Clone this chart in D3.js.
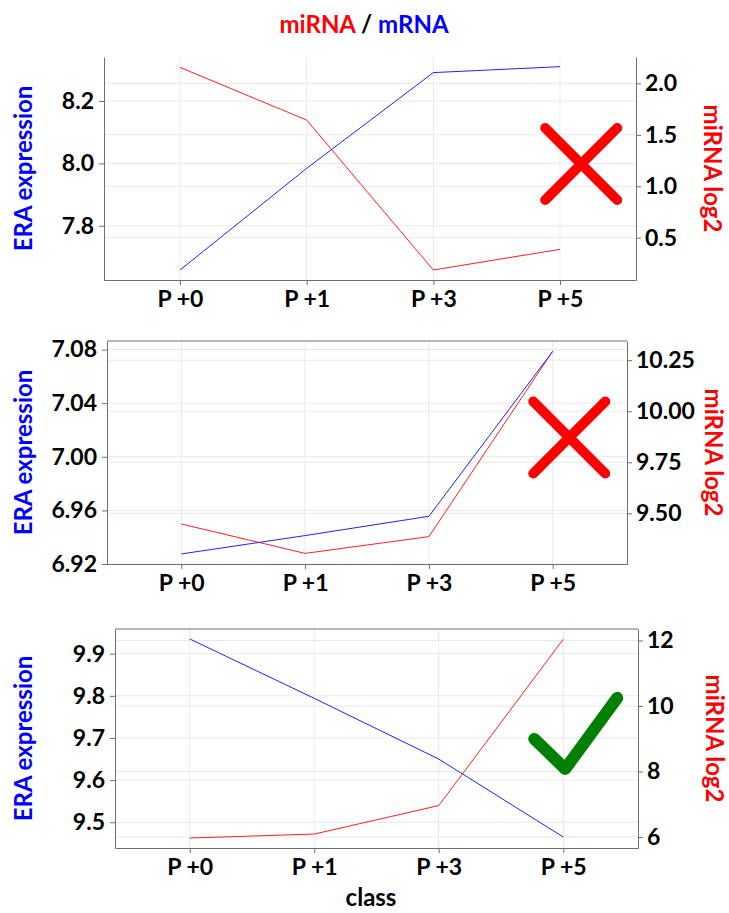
<!DOCTYPE html>
<html>
<head>
<meta charset="utf-8">
<script src="https://cdn.jsdelivr.net/npm/d3@7"></script>
<style>
  body { margin: 0; background: #fff; }
  text { font-family: Lato, "DejaVu Sans", sans-serif; font-weight: bold; }
</style>
</head>
<body>
<script>
// data
var categories = ["P +0", "P +1", "P +3", "P +5"]

var mrna1 = [7.658, 7.984, 8.291, 8.310]
var mirna1 = [2.155, 1.643, 0.186, 0.387]
var mrna2 = [6.9275, 6.9412, 6.9556, 7.0787]
var mirna2 = [9.448, 9.304, 9.386, 10.294]
var mrna3 = [9.935, 9.794, 9.650, 9.465]
var mirna3 = [5.97, 6.09, 6.96, 12.04]

var leftTicks1 = [7.8, 8.0, 8.2]
var rightTicks1 = [0.5, 1.0, 1.5, 2.0]
var leftTicks2 = [6.92, 6.96, 7.00, 7.04, 7.08]
var rightTicks2 = [9.5, 9.75, 10.0, 10.25]
var leftTicks3 = [9.5, 9.6, 9.7, 9.8, 9.9]
var rightTicks3 = [6, 8, 10, 12]

var verdicts = ["cross", "cross", "check"]

// layout of each panel (mx/my: centre of the verdict symbol as a fraction of the plot box)
var panels = [
    { left: 104, right: 636, top: 57, bottom: 280, topBorder: false, rLabelX: 704,
      mrna: mrna1, mirna: mirna1, lDom: [7.626, 8.341], rDom: [0.089, 2.256],
      lTicks: leftTicks1, rTicks: rightTicks1, lFmt: ".1f", rFmt: ".1f",
      mark: verdicts[0], mx: 0.897, my: 0.48 },
    { left: 107, right: 627, top: 341, bottom: 564, topBorder: true, rLabelX: 705,
      mrna: mrna2, mirna: mirna2, lDom: [6.92, 7.0864], rDom: [9.252, 10.344],
      lTicks: leftTicks2, rTicks: rightTicks2, lFmt: ".2f", rFmt: ".2f",
      mark: verdicts[1], mx: 0.889, my: 0.433 },
    { left: 115, right: 638, top: 629, bottom: 848, topBorder: true, rLabelX: 706,
      mrna: mrna3, mirna: mirna3, lDom: [9.439, 9.9585], rDom: [5.665, 12.35],
      lTicks: leftTicks3, rTicks: rightTicks3, lFmt: ".1f", rFmt: "d",
      mark: verdicts[2], mx: 0.88, my: 0.52 }
]

var width = 729
var height = 913
var gridColor = "#e9e9e9"
var axisColor = "#6e6e6e"
var tickFont = 23
var labelFont = 24

var svg = d3.select("body").append("svg")
    .attr("width", width)
    .attr("height", height)

// title
var title = svg.append("text")
    .attr("x", 364)
    .attr("y", 33)
    .attr("text-anchor", "middle")
    .style("font-size", labelFont + "px")
title.append("tspan").attr("fill", "#ff0000").text("miRNA")
title.append("tspan").attr("fill", "#000").text(" / ")
title.append("tspan").attr("fill", "#0000ff").text("mRNA")

panels.forEach(function (p) {
    var g = svg.append("g")

    var xScale = d3.scalePoint()
        .domain(categories)
        .range([p.left, p.right])
        .padding(0.6)

    var yLeft = d3.scaleLinear().domain(p.lDom).range([p.bottom, p.top])
    var yRight = d3.scaleLinear().domain(p.rDom).range([p.bottom, p.top])

    // grid
    var grid = g.append("g").attr("stroke", gridColor).attr("stroke-width", 1)
    grid.selectAll(".vg").data(categories).enter().append("line")
        .attr("x1", d => xScale(d)).attr("x2", d => xScale(d))
        .attr("y1", p.top).attr("y2", p.bottom)
    grid.selectAll(".lg").data(p.lTicks).enter().append("line")
        .attr("x1", p.left).attr("x2", p.right)
        .attr("y1", d => yLeft(d)).attr("y2", d => yLeft(d))
    grid.selectAll(".rg").data(p.rTicks).enter().append("line")
        .attr("x1", p.left).attr("x2", p.right)
        .attr("y1", d => yRight(d)).attr("y2", d => yRight(d))

    // axes
    var lAxis = g.append("g")
        .attr("transform", "translate(" + p.left + ",0)")
        .call(d3.axisLeft(yLeft).tickValues(p.lTicks).tickFormat(d3.format(p.lFmt)).tickSize(5).tickPadding(5).tickSizeOuter(0))
    var rAxis = g.append("g")
        .attr("transform", "translate(" + p.right + ",0)")
        .call(d3.axisRight(yRight).tickValues(p.rTicks).tickFormat(d3.format(p.rFmt)).tickSize(5).tickPadding(4).tickSizeOuter(0))
    var bAxis = g.append("g")
        .attr("transform", "translate(0," + p.bottom + ")")
        .call(d3.axisBottom(xScale).tickSize(5).tickPadding(6).tickSizeOuter(0))

    ;[lAxis, rAxis, bAxis].forEach(function (a) {
        a.select(".domain").attr("stroke", axisColor)
        a.selectAll(".tick line").attr("stroke", axisColor)
        a.selectAll(".tick text")
            .attr("fill", "#000")
            .style("font-size", tickFont + "px")
            .style("font-family", "Lato, sans-serif")
            .style("font-weight", "bold")
    })

    if (p.topBorder) {
        g.append("line")
            .attr("x1", p.left).attr("x2", p.right)
            .attr("y1", p.top).attr("y2", p.top)
            .attr("stroke", axisColor)
    }

    // series
    var lineL = d3.line().x((d, i) => xScale(categories[i])).y(d => yLeft(d))
    var lineR = d3.line().x((d, i) => xScale(categories[i])).y(d => yRight(d))

    g.append("path").datum(p.mirna)
        .attr("d", lineR)
        .attr("fill", "none")
        .attr("stroke", "#ff2020")
        .attr("stroke-width", 1)
    g.append("path").datum(p.mrna)
        .attr("d", lineL)
        .attr("fill", "none")
        .attr("stroke", "#2020ff")
        .attr("stroke-width", 1)

    // axis titles
    var midY = (p.top + p.bottom) / 2
    g.append("text")
        .attr("transform", "translate(" + 32 + "," + midY + ") rotate(-90)")
        .attr("text-anchor", "middle")
        .attr("fill", "#0000ff")
        .style("font-size", labelFont + "px")
        .text("ERA expression")
    g.append("text")
        .attr("transform", "translate(" + p.rLabelX + "," + midY + ") rotate(90)")
        .attr("text-anchor", "middle")
        .attr("fill", "#ff0000")
        .style("font-size", labelFont + "px")
        .text("miRNA log2")

    // verdict symbol in the free space right of the last category
    var cx = p.left + (p.right - p.left) * p.mx
    var cy = p.top + (p.bottom - p.top) * p.my
    if (p.mark === "cross") {
        var r = 36
        g.append("path")
            .attr("d", "M" + (cx - r) + "," + (cy - r) + "L" + (cx + r) + "," + (cy + r) +
                "M" + (cx - r) + "," + (cy + r) + "L" + (cx + r) + "," + (cy - r))
            .attr("stroke", "#ff0000")
            .attr("stroke-width", 10)
            .attr("stroke-linecap", "round")
            .attr("fill", "none")
    } else {
        g.append("path")
            .attr("d", "M" + (cx - 41) + "," + (cy - 4) + "L" + (cx - 10) + "," + (cy + 26) +
                "L" + (cx + 42) + "," + (cy - 45))
            .attr("stroke", "#008000")
            .attr("stroke-width", 12)
            .attr("stroke-linecap", "round")
            .attr("stroke-linejoin", "round")
            .attr("fill", "none")
    }
})

// x axis title
svg.append("text")
    .attr("x", 371)
    .attr("y", 906)
    .attr("text-anchor", "middle")
    .attr("fill", "#000")
    .style("font-size", labelFont + "px")
    .text("class")
</script>
</body>
</html>
